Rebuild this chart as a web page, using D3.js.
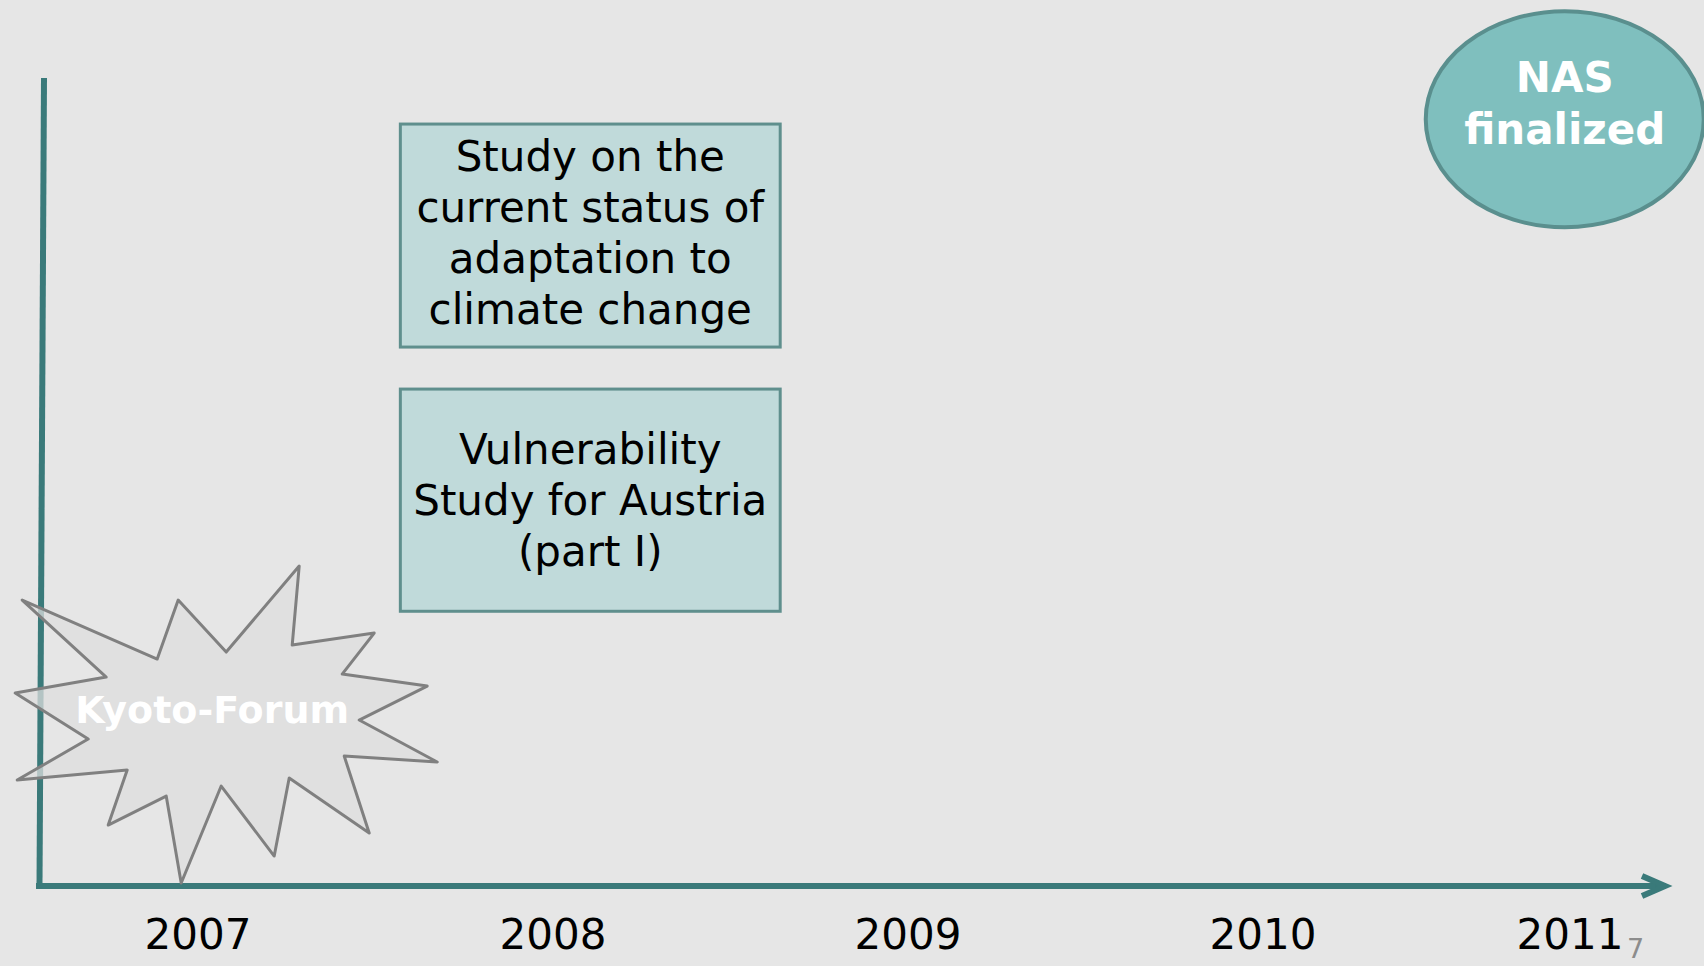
<!DOCTYPE html>
<html>
<head>
<meta charset="utf-8">
<script src="https://cdn.jsdelivr.net/npm/d3@7"></script>
<style>
  html, body { margin: 0; padding: 0; background: #e6e6e6; }
  svg { display: block; }
  text { font-family: Verdana, "DejaVu Sans", sans-serif; }
</style>
</head>
<body>
<svg id="timeline" width="1704" height="966"></svg>
<script>
    //////////// DATA ////////////

    var years = [2007, 2008, 2009, 2010, 2011];

    // study boxes: start / end year, top / bottom as share of the axis height
    var boxStart = [2007.57, 2007.57];
    var boxEnd = [2008.64, 2008.64];
    var boxTop = [0.943, 0.615];
    var boxBottom = [0.667, 0.340];
    var boxLabels = [
        ["Study on the", "current status of", "adaptation to", "climate change"],
        ["Vulnerability", "Study for Austria", "(part I)"]
    ];

    // milestones
    var kyotoYear = 2007.04;
    var kyotoLevel = 0.219;
    var kyotoLabel = "Kyoto-Forum";

    var nasYear = 2010.85;
    var nasLevel = 0.949;
    var nasLabel = ["NAS", "finalized"];

    var pageNumber = "7";


    //////////// LAYOUT ////////////

    var svg = d3.select("#timeline"),
        width = +svg.attr("width"),
        height = +svg.attr("height");

    var x = d3.scaleLinear().domain([2007, 2010]).range([198, 1263]);
    var y = d3.scaleLinear().domain([0, 1]).range([886, 78]);

    var axisLeft = 36,
        arrowTip = 1665,
        axisColor = "#3a7a7a",
        lineH = 51;

    // explosion outline, offsets from the label centre
    var starShape = [
        [-190, -109], [-55, -50], [-34, -109], [14, -57], [87, -143], [80, -64],
        [162, -76], [130, -35], [215, -23], [147, 11], [225, 53], [132, 47],
        [157, 124], [77, 69], [62, 147], [9, 77], [-31, 174], [-46, 87],
        [-104, 116], [-85, 61], [-195, 71], [-124, 30], [-197, -16], [-106, -32]
    ];

    svg.append("rect")
        .attr("width", width)
        .attr("height", height)
        .attr("fill", "#e6e6e6");


    //////////// AXES ////////////

    var axis = svg.append("g").attr("class", "axis");

    // vertical axis leans a little to the right at the top
    axis.append("line")
        .attr("x1", axisLeft + 3.5).attr("y1", y(0))
        .attr("x2", axisLeft + 8).attr("y2", y(1))
        .attr("stroke", axisColor)
        .attr("stroke-width", 6);

    axis.append("line")
        .attr("x1", axisLeft).attr("y1", y(0))
        .attr("x2", arrowTip - 2).attr("y2", y(0))
        .attr("stroke", axisColor)
        .attr("stroke-width", 6);

    axis.append("path")
        .attr("d", "M" + (arrowTip - 23) + "," + (y(0) - 10) +
            "L" + arrowTip + "," + y(0) +
            "L" + (arrowTip - 23) + "," + (y(0) + 10))
        .attr("fill", "none")
        .attr("stroke", axisColor)
        .attr("stroke-width", 6)
        .attr("stroke-linejoin", "miter");

    // year labels, last one kept clear of the arrow
    svg.append("g")
        .attr("class", "years")
        .selectAll("text")
        .data(years)
        .enter().append("text")
        .attr("x", function (d) {
            return Math.min(x(d), arrowTip - 95);
        })
        .attr("y", y(0) + 63)
        .attr("text-anchor", "middle")
        .attr("font-size", 42)
        .attr("fill", "#000")
        .text(function (d) {
            return d;
        });


    //////////// KYOTO-FORUM ////////////

    var kx = x(kyotoYear),
        ky = y(kyotoLevel);

    svg.append("path")
        .datum(starShape)
        .attr("d", d3.line()
            .x(function (d) { return kx + d[0]; })
            .y(function (d) { return ky + d[1]; })
            .curve(d3.curveLinearClosed))
        .attr("fill", "#dedede")
        .attr("fill-opacity", 0.75)
        .attr("stroke", "#808080")
        .attr("stroke-width", 3)
        .attr("stroke-linejoin", "round");

    svg.append("text")
        .attr("x", kx)
        .attr("y", ky)
        .attr("dy", "0.36em")
        .attr("text-anchor", "middle")
        .attr("font-size", 38)
        .attr("font-weight", "bold")
        .attr("fill", "#ffffff")
        .text(kyotoLabel);


    //////////// STUDY BOXES ////////////

    var boxes = svg.append("g")
        .attr("class", "boxes")
        .selectAll("g")
        .data(boxLabels)
        .enter().append("g");

    boxes.append("rect")
        .attr("x", function (d, i) { return x(boxStart[i]); })
        .attr("y", function (d, i) { return y(boxTop[i]); })
        .attr("width", function (d, i) { return x(boxEnd[i]) - x(boxStart[i]); })
        .attr("height", function (d, i) { return y(boxBottom[i]) - y(boxTop[i]); })
        .attr("fill", "#c0dada")
        .attr("stroke", "#5f8f8d")
        .attr("stroke-width", 3);

    boxes.each(function (lines, i) {
        var cx = (x(boxStart[i]) + x(boxEnd[i])) / 2,
            cy = (y(boxTop[i]) + y(boxBottom[i])) / 2;
        d3.select(this).selectAll("text")
            .data(lines)
            .enter().append("text")
            .attr("x", cx)
            .attr("y", function (t, j) {
                return cy + (j - (lines.length - 1) / 2) * lineH;
            })
            .attr("dy", lines.length > 3 ? "0.28em" : "0.36em")
            .attr("text-anchor", "middle")
            .attr("font-size", 42)
            .attr("fill", "#000")
            .text(function (t) { return t; });
    });


    //////////// NAS FINALIZED ////////////

    var nx = x(nasYear),
        ny = y(nasLevel);

    svg.append("ellipse")
        .attr("cx", nx)
        .attr("cy", ny)
        .attr("rx", 139)
        .attr("ry", 108)
        .attr("fill", "#7fbfbe")
        .attr("stroke", "#5a8f8e")
        .attr("stroke-width", 4);

    svg.append("g")
        .selectAll("text")
        .data(nasLabel)
        .enter().append("text")
        .attr("x", nx)
        .attr("y", function (d, j) {
            return ny + (j - (nasLabel.length - 1) / 2) * 52 - 1;
        })
        .attr("text-anchor", "middle")
        .attr("font-size", 42)
        .attr("font-weight", "bold")
        .attr("fill", "#ffffff")
        .text(function (d) { return d; });


    //////////// PAGE NUMBER ////////////

    svg.append("text")
        .attr("x", arrowTip - 38)
        .attr("y", 958)
        .attr("font-size", 27)
        .attr("fill", "#8c8c8c")
        .text(pageNumber);
</script>
</body>
</html>
